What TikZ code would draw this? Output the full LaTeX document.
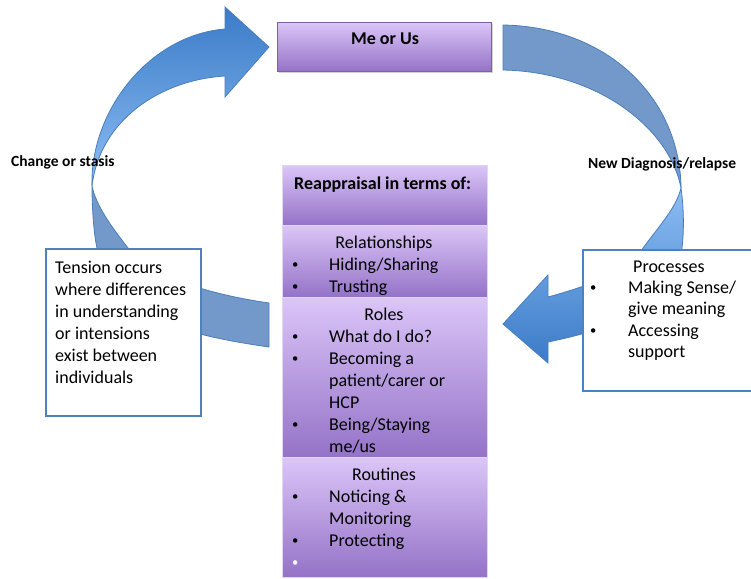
\documentclass[tikz,border=0pt]{standalone}
\usepackage{fontspec}
\usepackage{graphicx}
\setmainfont{Carlito}
\usetikzlibrary{shadows}
\definecolor{arrowline}{HTML}{4A7EBB}
\definecolor{backblue}{HTML}{7399CB}
\definecolor{headdark}{HTML}{3B7BC8}
\definecolor{headlight}{HTML}{8CBDF3}
\definecolor{purtop}{HTML}{DBC5F8}
\definecolor{purbot}{HTML}{9472C7}
\definecolor{purline}{HTML}{7F60A8}
\definecolor{sectline}{HTML}{E2D8EE}
\definecolor{boxblue}{HTML}{4F81BD}
\newcommand\mystrut{\rule{0pt}{17pt}}
\newcommand\mydot{\raisebox{1.3pt}{\scalebox{0.7}{•}}}
\newcommand\mybul{\makebox[37pt][l]{\mydot}}
\newcommand\myind{\hspace*{37pt}}
\begin{document}
\begin{tikzpicture}[x=1pt,y=-1pt,
  backpart/.style={draw=arrowline, line width=0.8pt, fill=backblue},
  frontpart/.style={draw=arrowline, line width=0.8pt},
  txtbox/.style={draw=boxblue, line width=2pt, fill=white, anchor=north west, inner sep=0},
  sect/.style={anchor=north west, inner sep=0, minimum width=205pt, top color=purtop, bottom color=purbot, draw=sectline, line width=0.8pt},
  body/.style={font=\fontsize{18}{22}\selectfont, inner sep=0, align=left, anchor=north west},
  title/.style={font=\fontsize{18}{22}\selectfont, inner sep=0, anchor=base},
  lbl/.style={font=\fontsize{15.5}{18}\selectfont\bfseries, inner sep=0, anchor=base west}]
\useasboundingbox (0,0) rectangle (751,578);
\fill[white] (0,0) rectangle (751,578);

% left curved arrow
\path[backpart] (92,186) .. controls (92,210) and (94,235) .. (97,248)
  .. controls (105,310) and (170,333) .. (269,347) -- (269,303)
  .. controls (180,290) and (140,265) .. (128,248)
  .. controls (110,225) and (96,205) .. cycle;
\path[frontpart, top color=headdark, bottom color=headlight] (92,186)
  .. controls (90,110) and (150,35) .. (225,29) -- (225,7) -- (269,47) -- (225,97) -- (225,76)
  .. controls (160,80) and (100,120) .. cycle;

% right curved arrow
\path[backpart] (503,25) .. controls (610,27) and (680,100) .. (681,188)
  .. controls (670,130) and (600,72) .. (503,70) -- cycle;
\path[frontpart, top color=headlight, bottom color=headdark] (681,188)
  .. controls (684,210) and (684,230) .. (682,248)
  .. controls (678,300) and (630,325) .. (548,342) -- (548,363) -- (503,324) -- (548,275) -- (548,297)
  .. controls (610,280) and (635,265) .. (643,248)
  .. controls (660,225) and (676,208) .. cycle;

% Me or Us
\node[anchor=north west, inner sep=0, minimum width=214pt, minimum height=49pt,
  top color=purtop, bottom color=purbot, draw=purline, line width=0.8pt,
  drop shadow={opacity=0.35, shadow xshift=1.5pt, shadow yshift=-2pt}] (me) at (277,22) {};
\node[font=\fontsize{18}{22}\selectfont\bfseries, inner sep=0, anchor=base] (metext) at (385,45) {Me or Us};

% Reappraisal column
\node[sect, minimum height=60pt] (hdr) at (282,165) {};
\node[sect, minimum height=72pt] (rel) at (282,225) {};
\node[sect, minimum height=160pt] (roles) at (282,297) {};
\node[sect, minimum height=120pt] (rout) at (282,457) {};
\node[font=\fontsize{18}{22}\selectfont\bfseries, inner sep=0, anchor=base west] (hdrtext) at (294,189) {Reappraisal in terms of:};

\node[title] (reltitle) at (384,248) {Relationships};
\node[body] (rellist) at (292,253) {\mystrut\mybul Hiding/Sharing\\ \mybul Trusting};

\node[title] (rolestitle) at (384,320) {Roles};
\node[body] (roleslist) at (292,325) {\mystrut\mybul What do I do?\\ \mybul Becoming a\\ \myind patient/carer or\\ \myind HCP\\ \mybul Being/Staying\\ \myind me/us};

\node[title] (routtitle) at (384,480) {Routines};
\node[body] (routlist) at (292,485) {\mystrut\mybul Noticing \&\\ \myind Monitoring\\ \mybul Protecting\\ \textcolor{white}{\mydot}};

% left text box
\node[txtbox, minimum width=155pt, minimum height=167pt] (tbox) at (45,248) {};
\node[body] (ttext) at (55,256) {\mystrut Tension occurs\\ where differences\\ in understanding\\ or intensions\\ exist between\\ individuals};

% right text box
\node[txtbox, minimum width=180pt, minimum height=141pt] (pbox) at (582,249) {};
\node[title, anchor=base west] (ptitle) at (633,272) {Processes};
\node[body, font=\fontsize{18}{21.5}\selectfont] (plist) at (590,276) {\mystrut\makebox[38pt][l]{\mydot}Making Sense/\\ \hspace*{38pt}give meaning\\ \makebox[38pt][l]{\mydot}Accessing\\ \hspace*{38pt}support};

% labels
\node[lbl] (cs) at (11,166) {Change or stasis};
\node[lbl] (nd) at (588,168) {New Diagnosis/relapse};
\end{tikzpicture}
\end{document}
